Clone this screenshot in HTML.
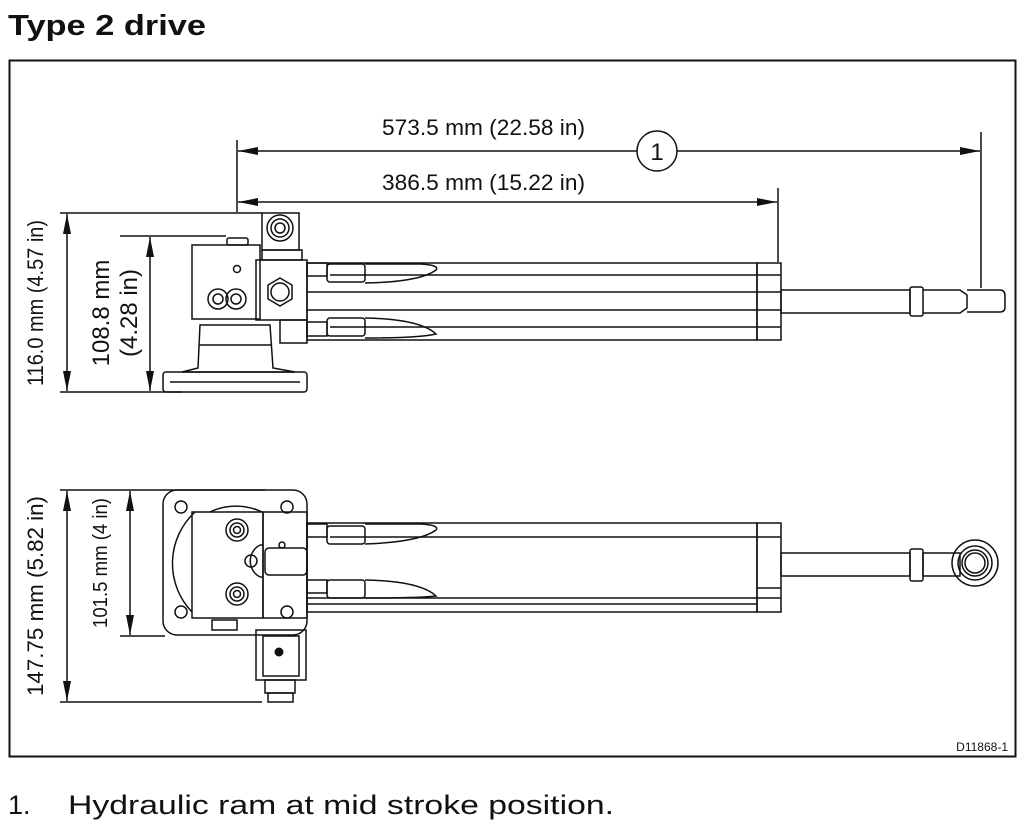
<!DOCTYPE html>
<html><head><meta charset="utf-8"><style>
html,body{margin:0;padding:0;background:#fff;width:1026px;height:831px;overflow:hidden}
svg{display:block}
text{font-family:"Liberation Sans",sans-serif;fill:#111}
</style></head><body>
<svg width="1026" height="831" viewBox="0 0 1026 831" xmlns="http://www.w3.org/2000/svg">
<defs>
<marker id="a" viewBox="0 0 20 8" refX="20" refY="4" markerWidth="20" markerHeight="8" markerUnits="userSpaceOnUse" orient="auto-start-reverse"><path d="M0,0 L20,4 L0,8 Z" fill="#111"/></marker>
</defs>
<text x="8" y="35" font-size="29" font-weight="bold" textLength="198" lengthAdjust="spacingAndGlyphs">Type 2 drive</text>
<rect x="9.5" y="60.5" width="1006" height="696" fill="none" stroke="#111" stroke-width="2"/>

<g stroke="#111" fill="none" stroke-width="1.5">
<!-- top dims -->
<line x1="237" y1="140" x2="237" y2="212"/>
<line x1="981" y1="132" x2="981" y2="288"/>
<line x1="778" y1="188" x2="778" y2="262"/>
<line x1="238" y1="151" x2="637" y2="151" marker-start="url(#a)"/>
<line x1="677" y1="151" x2="980" y2="151" marker-end="url(#a)"/>
<circle cx="657" cy="151" r="20"/>
<line x1="238" y1="202" x2="777" y2="202" marker-start="url(#a)" marker-end="url(#a)"/>
<!-- left top dims -->
<line x1="60" y1="213" x2="262" y2="213"/>
<line x1="120" y1="236" x2="226" y2="236"/>
<line x1="60" y1="392" x2="182" y2="392"/>
<line x1="67" y1="214" x2="67" y2="391" marker-start="url(#a)" marker-end="url(#a)"/>
<line x1="150" y1="237" x2="150" y2="391" marker-start="url(#a)" marker-end="url(#a)"/>
<!-- bottom dims -->
<line x1="60" y1="490" x2="265" y2="490"/>
<line x1="120" y1="636" x2="165" y2="636"/>
<line x1="60" y1="702" x2="262" y2="702"/>
<line x1="67" y1="491" x2="67" y2="701" marker-start="url(#a)" marker-end="url(#a)"/>
<line x1="130" y1="491" x2="130" y2="635" marker-start="url(#a)" marker-end="url(#a)"/>

<!-- TOP VIEW -->
<rect x="307" y="263" width="450" height="77"/>
<line x1="330" y1="275" x2="757" y2="275"/>
<line x1="307" y1="292" x2="757" y2="292"/>
<line x1="307" y1="310" x2="757" y2="310"/>
<line x1="330" y1="327" x2="757" y2="327"/>
<rect x="757" y="263" width="24" height="77"/>
<line x1="757" y1="275" x2="781" y2="275"/><line x1="757" y1="292" x2="781" y2="292"/><line x1="757" y1="310" x2="781" y2="310"/><line x1="757" y1="327" x2="781" y2="327"/>
<rect x="781" y="290" width="129" height="23"/>
<rect x="910" y="287" width="13" height="29" rx="2"/>
<path d="M923,290 H960 L967,295 V308 L960,313 H923"/>
<path d="M967,290 H1000 Q1005,290 1005,296 V307 Q1005,312 1000,312 H967"/>
<!-- hoses top -->
<rect x="307" y="263" width="20" height="13"/><rect x="327" y="264" width="38" height="18" rx="3"/>
<path d="M365,264 H420 Q440,265 436,270 Q420,282 365,283"/>
<rect x="307" y="322" width="20" height="14"/><rect x="327" y="318" width="38" height="18" rx="3"/>
<path d="M365,318 Q420,319 436,334 Q420,338 365,338"/>
<!-- block -->
<rect x="262" y="213" width="37" height="37"/>
<circle cx="280" cy="228" r="13"/><circle cx="280" cy="228" r="9"/><circle cx="280" cy="228" r="5"/>
<rect x="262" y="250" width="40" height="10"/>
<rect x="192" y="245" width="68" height="74"/>
<rect x="227" y="238" width="21" height="7" rx="2"/>
<circle cx="237" cy="269" r="3.5"/>
<circle cx="218" cy="299" r="10"/><circle cx="218" cy="299" r="5"/>
<circle cx="236" cy="299" r="10"/><circle cx="236" cy="299" r="5"/>
<rect x="256" y="260" width="51" height="60"/>
<polygon points="280,278 292,285 292,299 280,306 268,299 268,285"/>
<circle cx="280" cy="292" r="9"/>
<rect x="280" y="320" width="27" height="23"/>
<path d="M200,325 H270 L273,368 L295,372 H182 L198,368 Z"/>
<line x1="199" y1="345" x2="272" y2="345"/>
<rect x="163" y="372" width="144" height="20" rx="3"/>
<line x1="170" y1="382" x2="300" y2="382"/>

<!-- BOTTOM VIEW -->
<rect x="163" y="490" width="144" height="145" rx="14"/>
<circle cx="181" cy="507" r="6"/><circle cx="287" cy="507" r="6"/><circle cx="181" cy="612" r="6"/><circle cx="287" cy="612" r="6"/>
<path d="M195,512 A70,70 0 0 0 192,612"/>
<path d="M210,512 A60,60 0 0 1 262,512"/>
<rect x="192" y="512" width="71" height="106"/>
<rect x="263" y="512" width="44" height="106"/>
<circle cx="237" cy="530" r="11"/><circle cx="237" cy="530" r="7"/><circle cx="237" cy="530" r="3.5"/>
<circle cx="237" cy="594" r="11"/><circle cx="237" cy="594" r="7"/><circle cx="237" cy="594" r="3.5"/>
<path d="M260,545 A18,18 0 0 0 260,577" />
<path d="M260,545 H263 M260,577 H263"/>
<circle cx="251" cy="561" r="6"/>
<circle cx="282" cy="545" r="3"/>
<rect x="265" y="548" width="42" height="27" rx="4"/>
<rect x="212" y="620" width="25" height="10"/>
<rect x="256" y="630" width="50" height="50"/>
<rect x="263" y="636" width="36" height="40"/>
<rect x="265" y="680" width="30" height="13"/>
<rect x="268" y="693" width="25" height="9"/>
<!-- cylinder bottom -->
<rect x="307" y="523" width="450" height="89"/>
<line x1="330" y1="537" x2="757" y2="537"/>
<line x1="307" y1="598" x2="757" y2="598"/>
<line x1="307" y1="604" x2="757" y2="604"/>
<rect x="757" y="523" width="24" height="89"/>
<line x1="757" y1="537" x2="781" y2="537"/><line x1="757" y1="588" x2="781" y2="588"/><line x1="757" y1="598" x2="781" y2="598"/>
<rect x="307" y="524" width="20" height="13"/><rect x="327" y="526" width="38" height="18" rx="3"/>
<path d="M365,524 H420 Q440,525 436,530 Q420,542 365,544"/>
<rect x="307" y="580" width="20" height="13"/><rect x="327" y="580" width="38" height="18" rx="3"/>
<path d="M365,580 Q420,581 436,596 Q420,598 365,598"/>
<rect x="781" y="553" width="129" height="23"/>
<rect x="910" y="549" width="13" height="32" rx="2"/>
<rect x="923" y="553" width="37" height="23"/>
<circle cx="975" cy="563" r="23"/><circle cx="975" cy="563" r="17"/><circle cx="975" cy="563" r="13"/><circle cx="975" cy="563" r="10"/>
</g>
<circle cx="279" cy="652" r="4.5" fill="#111"/>

<text x="382" y="135" font-size="22" textLength="203" lengthAdjust="spacingAndGlyphs">573.5 mm (22.58 in)</text>
<text x="382" y="190" font-size="22" textLength="203" lengthAdjust="spacingAndGlyphs">386.5 mm (15.22 in)</text>
<text x="657" y="160" font-size="24" text-anchor="middle">1</text>
<text transform="translate(43,303) rotate(-90)" font-size="22" text-anchor="middle" textLength="166" lengthAdjust="spacingAndGlyphs">116.0 mm (4.57 in)</text>
<text transform="translate(109,313) rotate(-90)" font-size="24" text-anchor="middle">108.8 mm</text>
<text transform="translate(137,313) rotate(-90)" font-size="24" text-anchor="middle">(4.28 in)</text>
<text transform="translate(43,596) rotate(-90)" font-size="22" text-anchor="middle" textLength="200" lengthAdjust="spacingAndGlyphs">147.75 mm (5.82 in)</text>
<text transform="translate(107,563) rotate(-90)" font-size="20" text-anchor="middle" textLength="130" lengthAdjust="spacingAndGlyphs">101.5 mm (4 in)</text>
<text x="1008" y="751" font-size="12" text-anchor="end">D11868-1</text>
<text x="8" y="814" font-size="27">1.</text>
<text x="68" y="814" font-size="27" textLength="546" lengthAdjust="spacingAndGlyphs">Hydraulic ram at mid stroke position.</text>
</svg>
</body></html>
